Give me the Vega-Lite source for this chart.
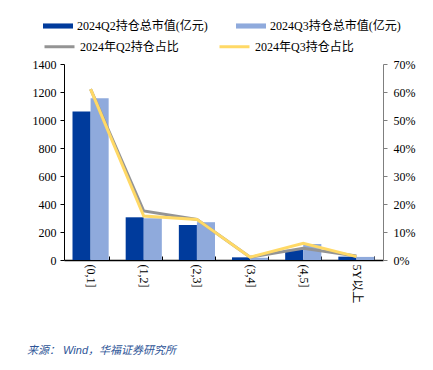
{
  "$schema": "https://vega.github.io/schema/vega-lite/v6.json",
  "autosize": "none",
  "width": 319,
  "height": 196,
  "padding": {"left": 64, "top": 64, "right": 50, "bottom": 110},
  "background": "white",
  "config": {
    "view": {"stroke": null},
    "font": "Liberation Serif, Noto Sans CJK SC",
    "axis": {"grid": false, "labelFont": "Liberation Serif, Noto Sans CJK SC", "labelFontSize": 12, "labelColor": "#000000", "title": null}
  },
  "title": {
    "text": "来源：  Wind，华福证券研究所",
    "orient": "bottom",
    "anchor": "start",
    "frame": "group",
    "dx": -37,
    "offset": 42,
    "font": "Liberation Sans, Noto Sans CJK SC",
    "fontSize": 11,
    "fontStyle": "italic",
    "fontWeight": "normal",
    "color": "#2E5597"
  },
  "datasets": {
    "bars": [
      {"cat": "(0,1]", "s": "2024Q2持仓总市值(亿元)", "v": 1060},
      {"cat": "(0,1]", "s": "2024Q3持仓总市值(亿元)", "v": 1155},
      {"cat": "(1,2]", "s": "2024Q2持仓总市值(亿元)", "v": 305},
      {"cat": "(1,2]", "s": "2024Q3持仓总市值(亿元)", "v": 298},
      {"cat": "(2,3]", "s": "2024Q2持仓总市值(亿元)", "v": 250},
      {"cat": "(2,3]", "s": "2024Q3持仓总市值(亿元)", "v": 270},
      {"cat": "(3,4]", "s": "2024Q2持仓总市值(亿元)", "v": 19},
      {"cat": "(3,4]", "s": "2024Q3持仓总市值(亿元)", "v": 16},
      {"cat": "(4,5]", "s": "2024Q2持仓总市值(亿元)", "v": 72},
      {"cat": "(4,5]", "s": "2024Q3持仓总市值(亿元)", "v": 114},
      {"cat": "5Y以上", "s": "2024Q2持仓总市值(亿元)", "v": 24},
      {"cat": "5Y以上", "s": "2024Q3持仓总市值(亿元)", "v": 22}
    ],
    "lines": [
      {"cat": "(0,1]", "s": "2024年Q2持仓占比", "p": 0.61},
      {"cat": "(1,2]", "s": "2024年Q2持仓占比", "p": 0.175},
      {"cat": "(2,3]", "s": "2024年Q2持仓占比", "p": 0.145},
      {"cat": "(3,4]", "s": "2024年Q2持仓占比", "p": 0.01},
      {"cat": "(4,5]", "s": "2024年Q2持仓占比", "p": 0.042},
      {"cat": "5Y以上", "s": "2024年Q2持仓占比", "p": 0.014},
      {"cat": "(0,1]", "s": "2024年Q3持仓占比", "p": 0.61},
      {"cat": "(1,2]", "s": "2024年Q3持仓占比", "p": 0.157},
      {"cat": "(2,3]", "s": "2024年Q3持仓占比", "p": 0.145},
      {"cat": "(3,4]", "s": "2024年Q3持仓占比", "p": 0.01},
      {"cat": "(4,5]", "s": "2024年Q3持仓占比", "p": 0.06},
      {"cat": "5Y以上", "s": "2024年Q3持仓占比", "p": 0.012}
    ]
  },
  "layer": [
    {
      "data": {"name": "bars"},
      "mark": {"type": "bar"},
      "encoding": {
        "x": {
          "field": "cat", "type": "nominal", "sort": null,
          "scale": {"paddingInner": 0.32, "paddingOuter": 0.16},
          "axis": {
            "labelAngle": 90, "labelAlign": "left", "labelBaseline": "middle",
            "labelFont": "Liberation Serif, Noto Sans CJK SC", "labelFontSize": 12,
            "labelPadding": 8, "tickBand": "extent", "tickSize": -4,
            "tickColor": "#000000", "domainColor": "#000000", "domainWidth": 1.5, "tickWidth": 1
          }
        },
        "xOffset": {"field": "s", "type": "nominal", "scale": {"paddingInner": 0, "paddingOuter": 0}},
        "y": {
          "field": "v", "type": "quantitative",
          "scale": {"domain": [0, 1400], "nice": false},
          "axis": {"values": [0, 200, 400, 600, 800, 1000, 1200, 1400], "format": "d",
            "labelFont": "Liberation Serif", "labelFontSize": 12,
            "tickSize": 4, "tickColor": "#000000", "domainColor": "#000000", "labelPadding": 4}
        },
        "color": {
          "field": "s", "type": "nominal",
          "scale": {"domain": ["2024Q2持仓总市值(亿元)", "2024Q3持仓总市值(亿元)"], "range": ["#003B9C", "#8FAADC"]},
          "legend": {
            "title": null, "orient": "none", "direction": "horizontal",
            "legendX": -21, "legendY": -53,
            "symbolType": "M-1,-0.17H1V0.17H-1Z", "symbolSize": 900, "symbolStrokeWidth": 0,
            "labelFont": "Liberation Serif, Noto Sans CJK SC", "labelFontSize": 12, "labelColor": "#000000",
            "labelOffset": 4, "columnPadding": 28, "labelLimit": 300
          }
        }
      }
    },
    {
      "data": {"name": "lines"},
      "mark": {"type": "line", "strokeWidth": 3},
      "encoding": {
        "x": {"field": "cat", "type": "nominal", "sort": null},
        "y": {
          "field": "p", "type": "quantitative",
          "scale": {"domain": [0, 0.7], "nice": false},
          "axis": {"orient": "right", "values": [0, 0.1, 0.2, 0.3, 0.4, 0.5, 0.6, 0.7], "format": ".0%",
            "labelFont": "Liberation Serif", "labelFontSize": 12,
            "tickSize": 4, "tickColor": "#7F7F7F", "domainColor": "#7F7F7F", "labelPadding": 6}
        },
        "stroke": {
          "field": "s", "type": "nominal",
          "scale": {"domain": ["2024年Q2持仓占比", "2024年Q3持仓占比"], "range": ["#949494", "#FFD966"]},
          "legend": {
            "title": null, "orient": "none", "direction": "horizontal",
            "legendX": -21, "legendY": -34,
            "symbolType": "stroke", "symbolSize": 900, "symbolStrokeWidth": 3,
            "labelFont": "Liberation Serif, Noto Sans CJK SC", "labelFontSize": 12, "labelColor": "#000000",
            "labelOffset": 4, "columnPadding": 34, "labelLimit": 300
          }
        }
      }
    }
  ],
  "resolve": {"scale": {"y": "independent"}}
}
